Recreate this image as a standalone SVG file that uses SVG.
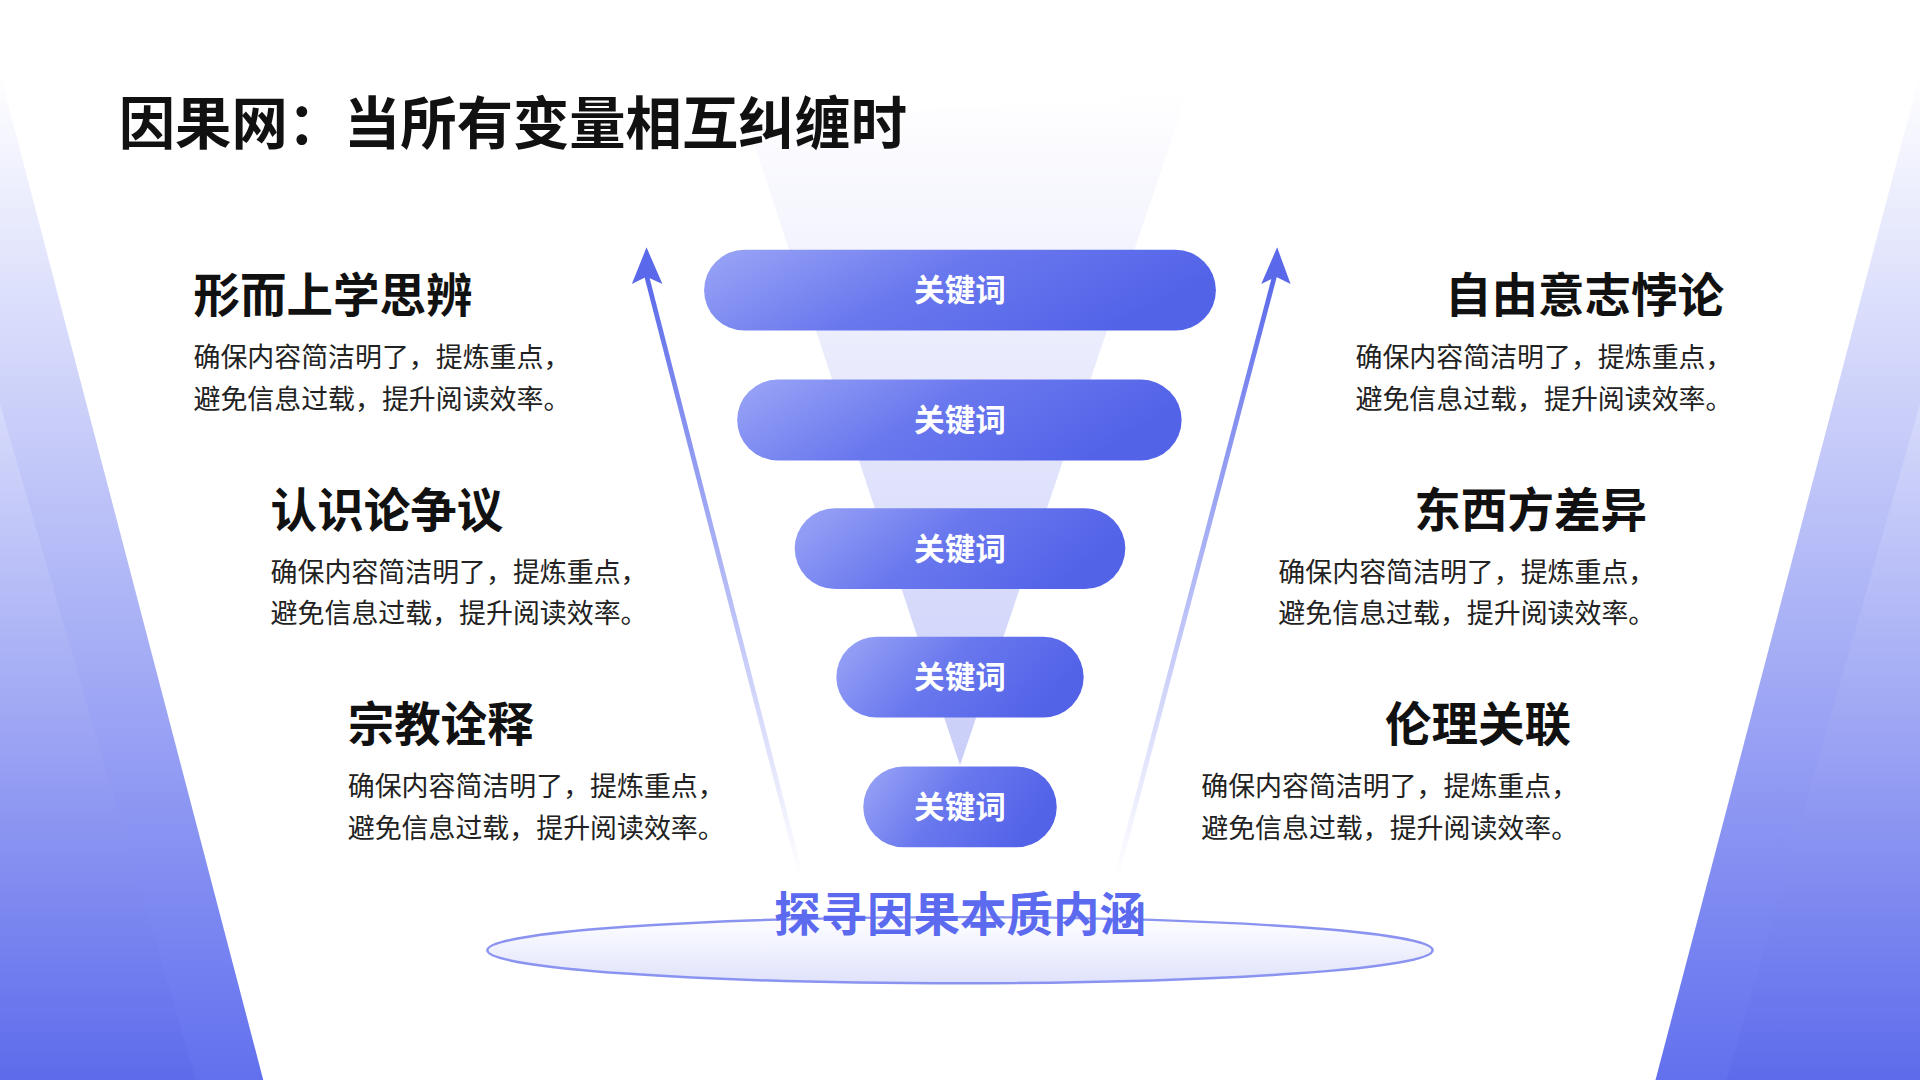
<svg xmlns="http://www.w3.org/2000/svg" width="1920" height="1080" viewBox="0 0 1920 1080">
<defs>
<linearGradient id="pill" x1="0" y1="0" x2="1" y2="0.3"><stop offset="0" stop-color="#9ba6f6"/><stop offset="0.5" stop-color="#6a78ee"/><stop offset="1" stop-color="#5363e8"/></linearGradient>
<linearGradient id="funnel" x1="0" y1="0" x2="0" y2="1"><stop offset="0" stop-color="#ffffff"/><stop offset="1" stop-color="#c3c8f8"/></linearGradient>
<linearGradient id="side" x1="0" y1="0" x2="0" y2="1"><stop offset="0" stop-color="#ffffff"/><stop offset="1" stop-color="#6270ee"/></linearGradient>
<linearGradient id="side2" x1="0" y1="0" x2="0" y2="1"><stop offset="0" stop-color="#dfe2fc"/><stop offset="1" stop-color="#5a68ea"/></linearGradient>
<linearGradient id="arrL" x1="0" y1="1" x2="0" y2="0"><stop offset="0" stop-color="#6c7aee" stop-opacity="0"/><stop offset="1" stop-color="#5a69ea"/></linearGradient>
<linearGradient id="base" x1="0" y1="0" x2="0" y2="1"><stop offset="0" stop-color="#ffffff"/><stop offset="1" stop-color="#dfe2fb"/></linearGradient>
<style>
.t{font-family:"Noto Sans CJK SC","Noto Sans",sans-serif}
.h{font-size:38px;font-weight:700;fill:#111}
.b{font-size:22px;fill:#222}
.k{font-size:25px;font-weight:700;fill:#fff;text-anchor:middle}
</style>
</defs>
<rect width="1920" height="1080" fill="#fff"/>
<g transform="scale(1.22449)">
<g id="background">
<polygon points="610,100 970,75 784,625" fill="url(#funnel)" opacity="0.9"/>
<polygon points="0,60 215,882 0,882" fill="url(#side)"/>
<polygon points="0,330 160,882 0,882" fill="url(#side2)" opacity="0.6"/>
<polygon points="1568,60 1352,882 1568,882" fill="url(#side)"/>
<polygon points="1568,330 1410,882 1568,882" fill="url(#side2)" opacity="0.6"/>
</g>
<g id="connectors">
<polygon points="652,715 656,715 530,225 526,225" fill="url(#arrL)"/>
<polygon points="528,202 516,232 528,226 541,232" fill="#5a69ea"/>
<polygon points="910,715 914,715 1043,225 1039,225" fill="url(#arrL)"/>
<polygon points="1043,202 1030,232 1042,226 1054,232" fill="#5a69ea"/>
</g>
<text class="t" x="97" y="118" font-size="46" font-weight="700" fill="#111">因果网：当所有变量相互纠缠时</text>
<g id="k1"><rect x="575" y="204" width="418" height="66" rx="33" fill="url(#pill)"/><text class="t k" x="784" y="246">关键词</text></g>
<g id="k2"><rect x="602" y="310" width="363" height="66" rx="33" fill="url(#pill)"/><text class="t k" x="784" y="352">关键词</text></g>
<g id="k3"><rect x="649" y="415" width="270" height="66" rx="33" fill="url(#pill)"/><text class="t k" x="784" y="457">关键词</text></g>
<g id="k4"><rect x="683" y="520" width="202" height="66" rx="33" fill="url(#pill)"/><text class="t k" x="784" y="562">关键词</text></g>
<g id="k5"><rect x="705" y="626" width="158" height="66" rx="33" fill="url(#pill)"/><text class="t k" x="784" y="668">关键词</text></g>
<g id="l1"><text class="t h" x="158" y="255">形而上学思辨</text><text class="t b" x="158" y="300">确保内容简洁明了，提炼重点，</text><text class="t b" x="158" y="334">避免信息过载，提升阅读效率。</text></g>
<g id="l2"><text class="t h" x="221" y="430">认识论争议</text><text class="t b" x="221" y="475">确保内容简洁明了，提炼重点，</text><text class="t b" x="221" y="509">避免信息过载，提升阅读效率。</text></g>
<g id="l3"><text class="t h" x="284" y="605">宗教诠释</text><text class="t b" x="284" y="650">确保内容简洁明了，提炼重点，</text><text class="t b" x="284" y="684">避免信息过载，提升阅读效率。</text></g>
<g id="r1"><text class="t h" x="1408" y="255" text-anchor="end">自由意志悖论</text><text class="t b" x="1107" y="300">确保内容简洁明了，提炼重点，</text><text class="t b" x="1107" y="334">避免信息过载，提升阅读效率。</text></g>
<g id="r2"><text class="t h" x="1345" y="430" text-anchor="end">东西方差异</text><text class="t b" x="1044" y="475">确保内容简洁明了，提炼重点，</text><text class="t b" x="1044" y="509">避免信息过载，提升阅读效率。</text></g>
<g id="r3"><text class="t h" x="1283" y="605" text-anchor="end">伦理关联</text><text class="t b" x="981" y="650">确保内容简洁明了，提炼重点，</text><text class="t b" x="981" y="684">避免信息过载，提升阅读效率。</text></g>
<g id="base-node">
<ellipse cx="784" cy="776" rx="386" ry="27" fill="url(#base)" stroke="#8a94f0" stroke-width="2"/>
<text class="t" x="784" y="760" font-size="38" font-weight="700" fill="#5b6aee" text-anchor="middle">探寻因果本质内涵</text>
</g>
</g>
</svg>
